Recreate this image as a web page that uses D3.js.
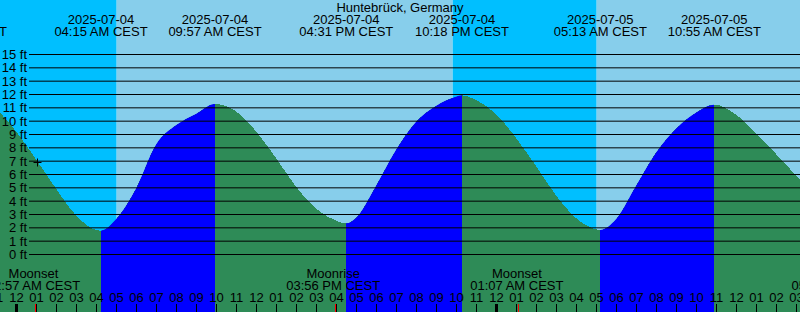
<html>
<head>
<meta charset="utf-8">
<script src="https://cdn.jsdelivr.net/npm/d3@7"></script>
<style>
  body { margin: 0; }
  text { font-family: "Liberation Sans", Arial, sans-serif; font-size: 13px; }
</style>
</head>
<body>
<svg width="800" height="312"></svg>
<script>

var station = 'Huntebrück, Germany'

// tide height, roughly every hour (ft)
var readTimes = ['2025-07-03 23:12', '2025-07-04 00:00', '2025-07-04 01:00', '2025-07-04 02:00', '2025-07-04 03:00', '2025-07-04 04:00',
  '2025-07-04 05:00', '2025-07-04 06:00', '2025-07-04 07:00', '2025-07-04 08:00', '2025-07-04 09:00',
  '2025-07-04 11:00', '2025-07-04 12:00', '2025-07-04 13:00', '2025-07-04 14:00', '2025-07-04 15:00', '2025-07-04 16:00',
  '2025-07-04 17:00', '2025-07-04 18:00', '2025-07-04 19:00', '2025-07-04 20:00', '2025-07-04 21:00', '2025-07-04 22:00',
  '2025-07-04 23:00', '2025-07-05 00:00', '2025-07-05 01:00', '2025-07-05 02:00', '2025-07-05 03:00', '2025-07-05 04:00', '2025-07-05 05:00',
  '2025-07-05 06:00', '2025-07-05 07:00', '2025-07-05 08:00', '2025-07-05 09:00', '2025-07-05 10:00',
  '2025-07-05 12:00', '2025-07-05 13:00', '2025-07-05 14:00', '2025-07-05 15:00', '2025-07-05 15:12']
var readFeet = [10.6, 9.2, 7.1, 4.9, 2.9, 1.8,
  2.6, 4.9, 8.2, 9.65, 10.5,
  10.7, 9.2, 7.2, 5.05, 3.4, 2.5,
  2.7, 5.1, 7.8, 9.9, 11.1, 11.8,
  11.55, 10.5, 8.7, 6.6, 4.4, 2.7, 1.85,
  2.6, 5.1, 7.6, 9.4, 10.6,
  10.45, 9.05, 7.5, 5.9, 5.6]

// high / low tides
var tideTimes = ['2025-07-03 21:12', '2025-07-04 04:15', '2025-07-04 09:57', '2025-07-04 16:31', '2025-07-04 22:18', '2025-07-05 05:13', '2025-07-05 10:55']
var tideKinds = ['High', 'Low', 'High', 'Low', 'High', 'Low', 'High']
var tideFeet = [11.3, 1.75, 11.25, 2.3, 11.9, 1.8, 11.2]

var sunTimes = ['2025-07-04 05:02', '2025-07-04 21:50', '2025-07-05 05:02']
var sunKinds = ['Sunrise', 'Sunset', 'Sunrise']

var moonTimes = ['2025-07-04 00:57', '2025-07-04 15:56', '2025-07-05 01:07', '2025-07-05 17:12']
var moonKinds = ['Moonset', 'Moonrise', 'Moonset', 'Moonrise']

var feetTicks = d3.range(0, 16)

var nowTime = '2025-07-04 01:04'
var nowFeet = 6.9

var parse = d3.timeParse('%Y-%m-%d %H:%M')
var W = 800, H = 312

var x = d3.scaleTime()
  .domain([parse('2025-07-04 00:00'), parse('2025-07-05 00:00')])
  .range([16, 496])
var y = d3.scaleLinear().domain([0, 15]).range([254, 54])

var svg = d3.select('svg')

// day / night background
var edges = [x.invert(0)].concat(sunTimes.map(parse), [x.invert(W)])
var sky = d3.range(edges.length - 1).map(function(i){
  var night = i < sunKinds.length ? sunKinds[i] == 'Sunrise' : sunKinds[sunKinds.length - 1] == 'Sunset'
  return {a: edges[i], b: edges[i + 1], night: night}
})
svg.selectAll('rect.sky')
  .data(sky)
  .enter()
  .append('rect')
  .attr('class', 'sky')
  .attr('x', function(d){ return x(d.a) })
  .attr('width', function(d){ return x(d.b) - x(d.a) })
  .attr('y', 0)
  .attr('height', H)
  .attr('fill', function(d){ return d.night ? '#00bfff' : '#87ceeb' })

// tide curve
var first = parse(readTimes[0]), last = parse(readTimes[readTimes.length - 1])
var pts = readTimes.map(function(t, i){ return {t: parse(t), ft: readFeet[i]} })
tideTimes.forEach(function(t, i){
  var tt = parse(t)
  if (tt >= first && tt <= last) pts.push({t: tt, ft: tideFeet[i]})
})
pts.sort(function(a, b){ return a.t - b.t })

var area = d3.area()
  .x(function(d){ return x(d.t) })
  .y0(H)
  .y1(function(d){ return y(d.ft) })
  .curve(d3.curveMonotoneX)

svg.append('clipPath').attr('id', 'water')
  .append('path').attr('d', area(pts))

svg.append('path')
  .attr('d', area(pts))
  .attr('fill', '#2e8b57')
  .attr('shape-rendering', 'crispEdges')

// flood = from a low to the next high
var flood = []
tideKinds.forEach(function(k, i){
  if (k == 'Low' && i + 1 < tideKinds.length) flood.push({a: parse(tideTimes[i]), b: parse(tideTimes[i + 1])})
})
svg.append('g')
  .attr('clip-path', 'url(#water)')
  .selectAll('rect')
  .data(flood)
  .enter()
  .append('rect')
  .attr('x', function(d){ return x(d.a) })
  .attr('width', function(d){ return x(d.b) - x(d.a) })
  .attr('y', 0)
  .attr('height', H)
  .attr('fill', '#0000ff')
  .attr('shape-rendering', 'crispEdges')

// feet grid
var gy = svg.append('g')
  .attr('transform', 'translate(29,0)')
  .call(d3.axisLeft(y).tickValues(feetTicks).tickSize(-(W - 29)).tickPadding(2)
    .tickFormat(function(d){ return d + ' ft' }))
gy.select('.domain').remove()
gy.selectAll('text').attr('dy', '0.35em')

// hour ticks along the bottom
var hours = d3.timeHour.range(x.invert(-20), x.invert(W + 20))
var gx = svg.append('g')
  .attr('transform', 'translate(0,' + H + ')')
  .call(d3.axisTop(x).tickValues(hours).tickSize(8).tickPadding(2).tickFormat(d3.timeFormat('%I')))
gx.select('.domain').remove()
gx.selectAll('.tick line')
  .attr('stroke-width', function(d){ return d.getHours() == 0 ? 3 : 1 })

// moon events
svg.selectAll('line.moon')
  .data(moonTimes)
  .enter()
  .append('line')
  .attr('class', 'moon')
  .attr('x1', function(d){ return Math.round(x(parse(d))) + 0.5 })
  .attr('x2', function(d){ return Math.round(x(parse(d))) + 0.5 })
  .attr('y1', H - 8)
  .attr('y2', H)
  .attr('stroke', 'red')

var fmtTime = d3.timeFormat('%I:%M %p CEST')
var fmtDate = d3.timeFormat('%Y-%m-%d')

var moon = svg.selectAll('g.moon')
  .data(moonTimes)
  .enter()
  .append('g')
  .attr('class', 'moon')
  .attr('text-anchor', 'middle')
moon.append('text')
  .attr('x', function(d){ return x(parse(d)) - 1.5 })
  .attr('y', 277.5)
  .text(function(d, i){ return moonKinds[i] })
moon.append('text')
  .attr('x', function(d){ return x(parse(d)) - 1.5 })
  .attr('y', 289.7)
  .text(function(d){ return fmtTime(parse(d)) })

// tide labels on top
var tl = svg.selectAll('g.tide')
  .data(tideTimes)
  .enter()
  .append('g')
  .attr('class', 'tide')
  .attr('text-anchor', 'middle')
tl.append('text')
  .attr('x', function(d){ return x(parse(d)) })
  .attr('y', 24)
  .text(function(d){ return fmtDate(parse(d)) })
tl.append('text')
  .attr('x', function(d){ return x(parse(d)) })
  .attr('y', 36)
  .text(function(d){ return fmtTime(parse(d)) })

svg.append('text')
  .attr('x', W / 2)
  .attr('y', 12)
  .attr('text-anchor', 'middle')
  .text(station)

// little cross at "now"
var nx = Math.round(x(parse(nowTime))) + 0.5, ny = Math.round(y(nowFeet)) + 0.5
svg.append('path')
  .attr('d', 'M' + (nx - 4) + ',' + ny + 'H' + (nx + 4) + 'M' + nx + ',' + (ny - 4) + 'V' + (ny + 4))
  .attr('stroke', 'black')

</script>
</body>
</html>
